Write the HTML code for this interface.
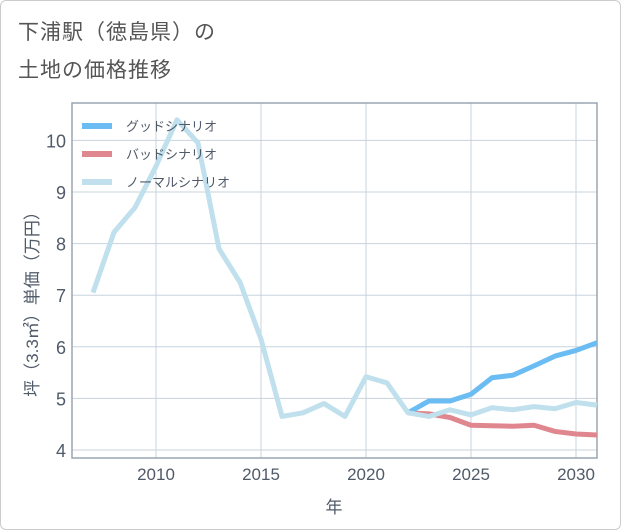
<!DOCTYPE html>
<html><head><meta charset="utf-8"><style>
body{margin:0;background:#fff;font-family:"Liberation Sans","Noto Sans CJK JP",sans-serif;}
#card{position:absolute;left:0;top:0;width:619px;height:528px;border:1px solid #ccc;border-radius:6px;background:#fff;}
.t{position:absolute;left:18px;font-size:21px;color:#555;letter-spacing:1px;}
</style></head><body>
<div id="card"></div>
<div class="t" style="top:16px">下浦駅（徳島県）の</div>
<div class="t" style="top:54px">土地の価格推移</div>
<svg id="c" width="621" height="530" style="position:absolute;left:0;top:0"></svg>
<script>
const years=[2007,2008,2009,2010,2011,2012,2013,2014,2015,2016,2017,2018,2019,2020,2021,2022,2023,2024,2025,2026,2027,2028,2029,2030,2031];
const normal=[7.05,8.22,8.7,9.5,10.4,9.95,7.9,7.25,6.15,4.65,4.72,4.9,4.65,5.42,5.3,4.72,4.65,4.78,4.68,4.82,4.78,4.84,4.8,4.92,4.87];
const goodYears=[2022,2023,2024,2025,2026,2027,2028,2029,2030,2031];
const good=[4.72,4.95,4.95,5.08,5.4,5.45,5.63,5.82,5.93,6.08];
const bad=[4.72,4.7,4.63,4.48,4.47,4.46,4.48,4.36,4.31,4.29];
const yTicks=[4,5,6,7,8,9,10];
const xTicks=[2010,2015,2020,2025,2030];
const L=72,R=597,T=103,B=458;
const x=y=>156+(y-2010)*21;
const y=v=>450-(v-4)*51.6;
const s=document.getElementById('c'),NS='http://www.w3.org/2000/svg';
function el(t,a,txt){const e=document.createElementNS(NS,t);for(const k in a)e.setAttribute(k,a[k]);if(txt!=null)e.textContent=txt;s.appendChild(e);return e;}
yTicks.forEach(v=>{const g=el('line',{x1:L,x2:R,y1:y(v),y2:y(v),stroke:'#c8d3de','stroke-width':1});

const t=el('text',{x:L-6,y:y(v)+7,'text-anchor':'end','font-size':18,fill:'#505a68'},v);
});
xTicks.forEach(v=>{const g=el('line',{x1:x(v),x2:x(v),y1:T,y2:B,stroke:'#c8d3de','stroke-width':1});

const t=el('text',{x:x(v),y:480,'text-anchor':'middle','font-size':17,fill:'#505a68'},v);
});
const fr=el('rect',{x:L,y:T,width:R-L,height:B-T,fill:'none',stroke:'#9aa5b1','stroke-width':1.5});

function line(xs,vs,c,n){const p=el('polyline',{points:xs.map((yr,i)=>x(yr)+','+y(vs[i])).join(' '),fill:'none',stroke:c,'stroke-width':5,'stroke-linejoin':'round'});
}
line(goodYears,bad,'#e0868e','bad-scenario-line');
line(goodYears,good,'#6bbcf3','good-scenario-line');
line(years,normal,'#bfe0ec','normal-scenario-line');
const leg=[['グッドシナリオ','#6bbcf3'],['バッドシナリオ','#e0868e'],['ノーマルシナリオ','#bfe0ec']];
leg.forEach((l,i)=>{const yy=126+i*28;
const r=el('rect',{x:82,y:yy-3,width:30,height:6,fill:l[1]});
const t=el('text',{x:126,y:yy+5,'font-size':13,fill:'#505a68'},l[0]);});
const xt=el('text',{x:334,y:513,'text-anchor':'middle','font-size':17,fill:'#505a68'},'年');
const yt=el('text',{x:0,y:0,'text-anchor':'middle','font-size':17,fill:'#505a68',transform:'translate(38,300) rotate(-90)'},'坪（3.3㎡）単価（万円）');
</script>
</body></html>
